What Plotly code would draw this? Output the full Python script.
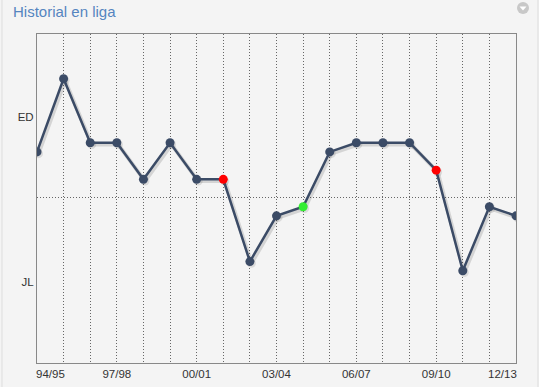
import plotly.graph_objects as go

# ---- data ----
seasons = ["94/95", "95/96", "96/97", "97/98", "98/99", "99/00", "00/01", "01/02",
           "02/03", "03/04", "04/05", "05/06", "06/07", "07/08", "08/09", "09/10",
           "10/11", "11/12", "12/13"]
# level: positive = places above the relegation line of upper division (ED),
# negative = position in lower division (JL)
level = [5, 13, 6, 6, 2, 6, 2, 2, -7, -2, -1, 5, 6, 6, 6, 3, -8, -1, -2]
marker_colors = ["#3b4b66"] * 19
marker_colors[7] = "#ff0000"
marker_colors[15] = "#ff0000"
marker_colors[10] = "#33ee33"
label_every = 3
y_tick_vals = [9, -9]
y_tick_text = ["ED", "JL"]
title_text = "Historial en liga"

x = list(range(len(seasons)))
tick_text = [s if (i % label_every == 0 and 0 < i < len(seasons) - 1) else "" for i, s in enumerate(seasons)]

W, H = 539, 387
L, R, T, B = 37, 23, 34, 24
pw = W - L - R
ph = H - T - B

fig = go.Figure()
# shadow
fig.add_trace(go.Scatter(
    x=[v + 1.5 / pw * 18 for v in x], y=[v - 1.8 / ph * 36 for v in level],
    mode="lines+markers", line=dict(color="rgba(0,0,0,0.13)", width=4),
    marker=dict(size=9, color="rgba(0,0,0,0.10)"), hoverinfo="skip", showlegend=False))
fig.add_trace(go.Scatter(
    x=x, y=level, mode="lines+markers",
    line=dict(color="#3b4b66", width=2.5),
    marker=dict(size=9, color=marker_colors),
    showlegend=False))

gridc = "#666666"
gdash = "1px,2px"
fig.update_xaxes(range=[0, 18], tickmode="array", tickvals=x, ticktext=tick_text,
                 showline=True, linecolor="#888888", linewidth=1, mirror=True,
                 ticks="", zeroline=False, tickfont=dict(size=11.5, color="#333333"),
                 showgrid=True, gridcolor=gridc, gridwidth=1, griddash=gdash,
                 automargin=False)
fig.update_yaxes(range=[-18.1, 17.9], tickmode="array", tickvals=y_tick_vals, ticktext=y_tick_text,
                 showgrid=False, zeroline=False, showline=True, linecolor="#888888",
                 linewidth=1, mirror=True, ticks="", ticklabelstandoff=0, ticklabelshift=2,
                 tickfont=dict(size=11.5, color="#333333"), automargin=False,
                 minor=dict(tickmode="array", tickvals=[0], showgrid=True, gridcolor=gridc,
                            griddash=gdash, gridwidth=1, ticks=""))

ann = [
    dict(x=0, y=0, xref="x", yref="paper", text=seasons[0], showarrow=False,
         xanchor="left", yanchor="top", xshift=-3, yshift=-3,
         font=dict(size=11.5, color="#333333")),
    dict(x=18, y=0, xref="x", yref="paper", text=seasons[-1], showarrow=False,
         xanchor="right", yanchor="top", xshift=3, yshift=-3,
         font=dict(size=11.5, color="#333333")),
]

# panel decorations
cx, cy, r = (523 - L) / pw, (H - B - 8) / ph, 6
shapes = [
    dict(type="line", xref="paper", yref="paper", x0=(2 - L) / pw, x1=(2 - L) / pw,
         y0=-B / ph, y1=(H - B) / ph, line=dict(color="#dddddd", width=1)),
    dict(type="line", xref="paper", yref="paper", x0=(538 - L) / pw, x1=(538 - L) / pw,
         y0=-B / ph, y1=(H - B) / ph, line=dict(color="#dddddd", width=1)),
    dict(type="circle", xref="paper", yref="paper", x0=cx - r / pw, x1=cx + r / pw,
         y0=cy - r / ph, y1=cy + r / ph, fillcolor="#c8c8c8", line=dict(width=0)),
    dict(type="path", xref="paper", yref="paper",
         path=f"M {cx - 3.5 / pw} {cy + 1.5 / ph} L {cx + 3.5 / pw} {cy + 1.5 / ph} L {cx} {cy - 2.5 / ph} Z",
         fillcolor="#ffffff", line=dict(width=0)),
]

fig.update_layout(
    width=W, height=H, margin=dict(l=L, r=R, t=T, b=B, autoexpand=False),
    paper_bgcolor="#f4f4f4", plot_bgcolor="#f4f4f4",
    font=dict(family="Liberation Sans, Arial, sans-serif"),
    title=dict(text=title_text, x=13 / W, xanchor="left", y=1 - 12 / H, yanchor="middle",
               xref="container", yref="container",
               font=dict(size=15, color="#5585c0")),
    annotations=ann, shapes=shapes,
)

fig.write_html("out.html", config={"displayModeBar": False},
               post_script="document.body.style.margin='0';document.body.style.overflow='hidden';document.body.style.background='#f4f4f4';")
